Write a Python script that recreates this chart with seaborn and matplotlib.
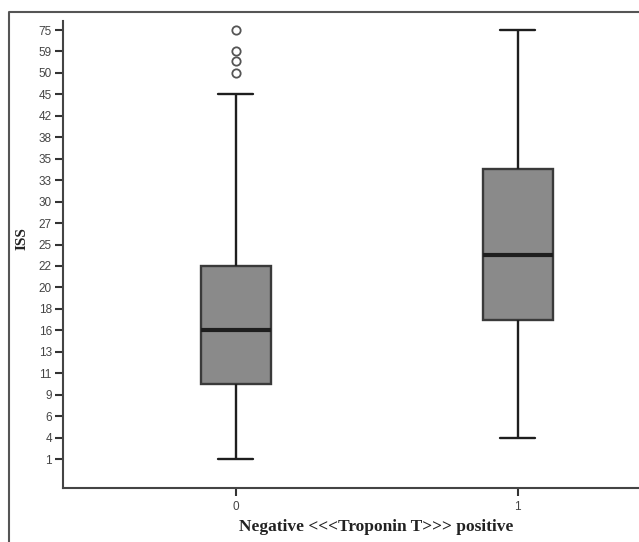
import numpy as np
import pandas as pd
import matplotlib
matplotlib.use("Agg")
import matplotlib.pyplot as plt
import seaborn as sns
from matplotlib.lines import Line2D

# ---- data (ISS values) ----
tick_values = [1, 4, 6, 9, 11, 13, 16, 18, 20, 22, 25, 27, 30, 33, 35, 38, 42, 45, 50, 59, 75]
groups = ["0", "1"]
iss_negative = [1, 4, 6, 9, 9, 10, 11, 13, 13, 16, 16, 16, 18, 20, 20, 22, 45, 50, 55, 59, 75]
iss_positive = [4, 17, 23.5, 34, 75]
x_label = "Negative <<<Troponin T>>> positive"
y_label = "ISS"

sns.set_theme(style="white")
plt.rcParams["font.family"] = ["Liberation Sans", "DejaVu Sans"]

tv = np.array(tick_values, dtype=float)
tp = np.arange(len(tv), dtype=float)


def fwd(v):
    v = np.asarray(v, dtype=float)
    out = np.interp(v, tv, tp)
    out = np.where(v < tv[0], (v - tv[0]) / (tv[1] - tv[0]), out)
    out = np.where(v > tv[-1], tp[-1] + (v - tv[-1]) / (tv[-1] - tv[-2]), out)
    return out


def inv(p):
    p = np.asarray(p, dtype=float)
    out = np.interp(p, tp, tv)
    out = np.where(p < 0, tv[0] + p * (tv[1] - tv[0]), out)
    out = np.where(p > tp[-1], tv[-1] + (p - tp[-1]) * (tv[-1] - tv[-2]), out)
    return out


df_neg = pd.DataFrame({"group": groups[0], "ISS": iss_negative})
df_pos = pd.DataFrame({"group": groups[1], "ISS": iss_positive})

fig = plt.figure(figsize=(6.39, 5.42), dpi=100)
W, H = 639, 542
ax = fig.add_axes([63 / W, (H - 488) / H, 1 - 63 / W, (488 - 21) / H])

common = dict(
    x="group", y="ISS", order=groups, width=0.25, ax=ax,
    color="#8a8a8a", saturation=1, linecolor="#1e1e1e", linewidth=1.7,
    fliersize=6,
    flierprops=dict(marker="o", markerfacecolor="none", markeredgecolor="#555555",
                    markeredgewidth=1.3),
    medianprops=dict(linewidth=3.0, color="#1e1e1e"),
    boxprops=dict(edgecolor="#3a3a3a"),
)
sns.boxplot(data=df_neg, whis=2.0, **common)
sns.boxplot(data=df_pos, whis=(0, 100), **common)

ax.set_yscale("function", functions=(fwd, inv))
ax.set_ylim(float(inv(-1.352)), float(inv(20.42)))
ax.set_xlim(-0.613, 1.43)
ax.set_yticks(tick_values)
ax.set_yticklabels([str(t) for t in tick_values])
ax.minorticks_off()

for s in ["top", "right"]:
    ax.spines[s].set_visible(False)
for s in ["left", "bottom"]:
    ax.spines[s].set_color("#444444")
    ax.spines[s].set_linewidth(1.5)

ax.tick_params(axis="y", which="major", left=True, length=6, width=1.5, color="#333333",
               labelsize=8.5, labelcolor="#444444", pad=2)
ax.tick_params(axis="x", which="major", bottom=True, length=6, width=1.5, color="#333333",
               labelsize=8.5, labelcolor="#444444", pad=3.5)

ax.set_xlabel(x_label, family=["Liberation Serif"], fontweight="bold", fontsize=12.5, color="#222222")
ax.set_ylabel(y_label, family=["Liberation Serif"], fontweight="bold", fontsize=11, color="#222222")
ax.xaxis.set_label_coords(0.543, -0.066)
ax.yaxis.set_label_coords(-0.071, 0.535)
ax.yaxis.label.set_va("center")

# outer frame (left and top edges visible in the reference)
fig.add_artist(Line2D([9 / W, 9 / W, 1.0], [0.0, 1 - 12 / H, 1 - 12 / H],
                      transform=fig.transFigure, color="#555555", linewidth=1.5))

fig.savefig("out.png", dpi=100)
